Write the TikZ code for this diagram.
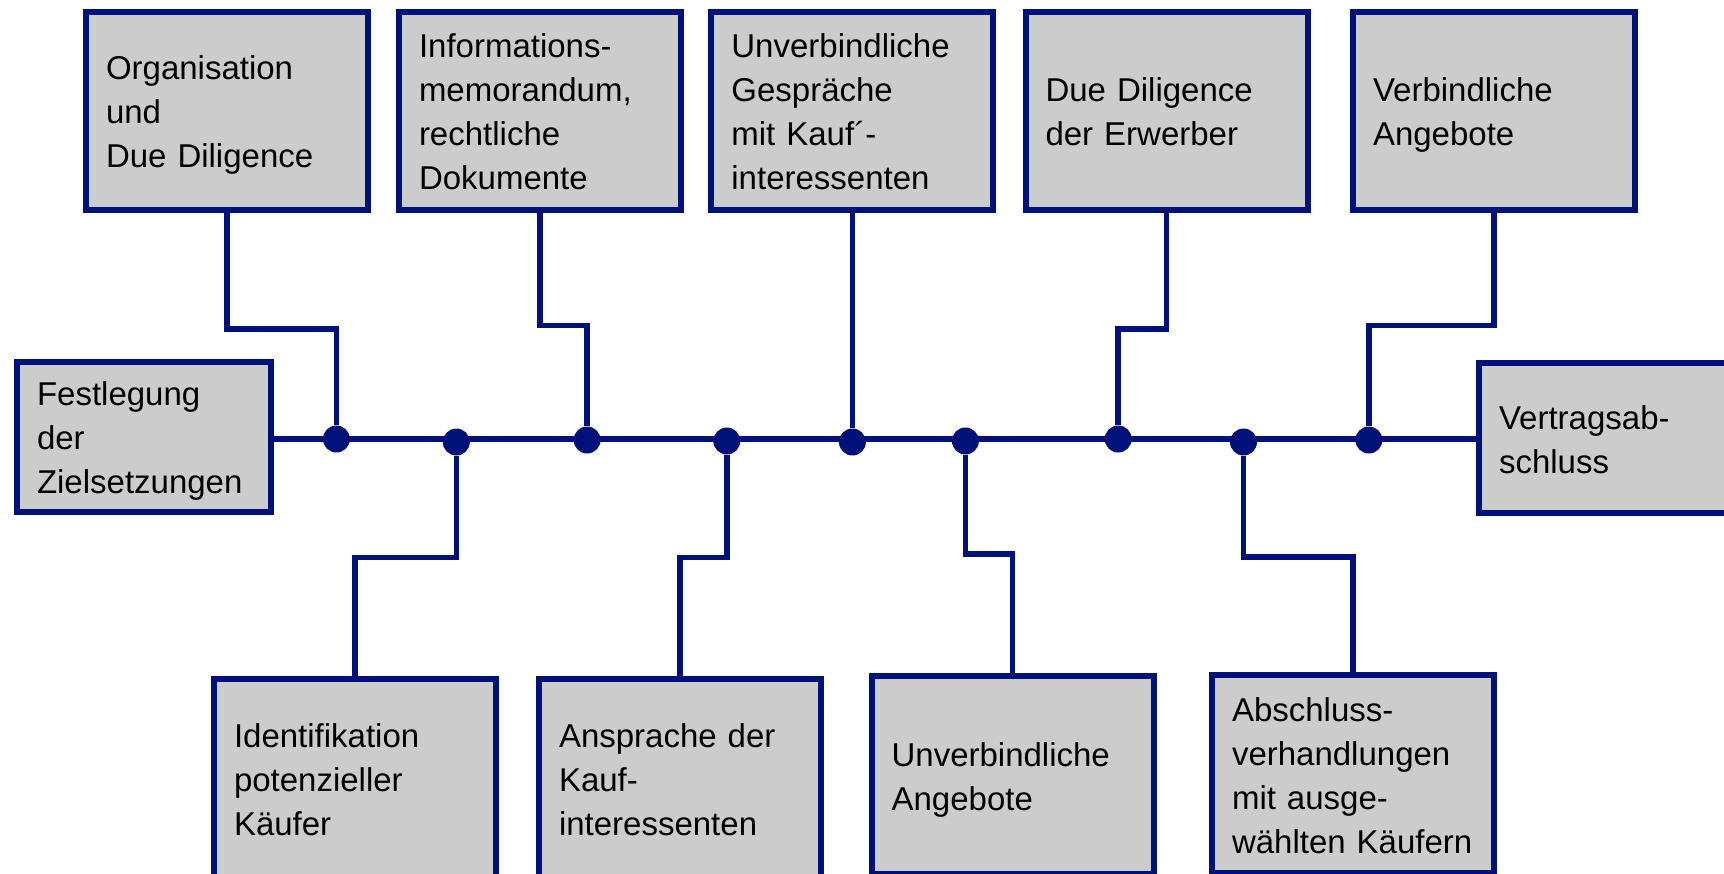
\documentclass[tikz,border=0pt]{standalone}
\usepackage{fontspec}
\setmainfont{Liberation Sans}
\definecolor{navy}{RGB}{0,18,122}
\definecolor{boxgray}{RGB}{204,204,204}
\newcommand{\mystrut}{\rule[-9pt]{0pt}{44pt}}
\tikzset{
  stage/.style={draw=navy, fill=boxgray, line width=6pt, inner xsep=20pt, inner ysep=0pt,
    text width=242pt, minimum height=198pt, align=left, font=\fontsize{33}{44}\selectfont},
  endbox/.style={stage, text width=214pt, minimum height=150pt},
  dot/.style={circle, fill=navy, inner sep=0pt, minimum size=27pt},
  conn/.style={draw=navy, line width=5.5pt},
  mainline/.style={draw=navy, line width=6pt}
}
\begin{document}
\begin{tikzpicture}[x=1pt,y=-1pt]
\useasboundingbox (0,0) rectangle (1724,874);
% end boxes
\node[endbox] (L) at (144,437) {\mystrut Festlegung\\\mystrut der\\\mystrut Zielsetzungen};
\node[endbox] (R) at (1606,438) {\mystrut Vertragsab-\\\mystrut schluss};
% top boxes
\node[stage] (A) at (227,111) {\mystrut Organisation\\\mystrut und\\\mystrut Due Diligence};
\node[stage] (B) at (540,111) {\mystrut Informations-\\\mystrut memorandum,\\\mystrut rechtliche\\\mystrut Dokumente};
\node[stage] (C) at (852.4,111) {\mystrut Unverbindliche\\\mystrut Gespräche\\\mystrut mit Kauf´-\\\mystrut interessenten};
\node[stage] (D) at (1166.5,111) {\mystrut Due Diligence\\\mystrut der Erwerber};
\node[stage] (E) at (1494,111) {\mystrut Verbindliche\\\mystrut Angebote};
% bottom boxes
\node[stage] (F) at (355,778.4) {\mystrut Identifikation\\\mystrut potenzieller\\\mystrut Käufer};
\node[stage] (G) at (680,778.4) {\mystrut Ansprache der\\\mystrut Kauf-\\\mystrut interessenten};
\node[stage] (H) at (1012.6,775) {\mystrut Unverbindliche\\\mystrut Angebote};
\node[stage] (I) at (1353,774) {\mystrut Abschluss-\\\mystrut verhandlungen\\\mystrut mit ausge-\\\mystrut wählten Käufern};
% main line
\draw[mainline] (L.east |- 0,439) -- (R.west |- 0,439);
% dots
\node[dot] (d1) at (336.4,439) {};
\node[dot] (d2) at (456.3,442) {};
\node[dot] (d3) at (587.1,440) {};
\node[dot] (d4) at (726.8,441) {};
\node[dot] (d5) at (852.4,442) {};
\node[dot] (d6) at (965.4,441) {};
\node[dot] (d7) at (1118.2,439) {};
\node[dot] (d8) at (1243.5,442) {};
\node[dot] (d9) at (1368.9,440) {};
% connectors top
\draw[conn] (A.south) -- ++(0,116) -| (d1);
\draw[conn] (B.south) -- ++(0,112.5) -| (d3);
\draw[conn] (C.south) -- (d5);
\draw[conn] (D.south) -- ++(0,116) -| (d7);
\draw[conn] (E.south) -- ++(0,112.5) -| (d9);
% connectors bottom
\draw[conn] (F.north) -- ++(0,-119) -| (d2);
\draw[conn] (G.north) -- ++(0,-119) -| (d4);
\draw[conn] (H.north) -- ++(0,-119) -| (d6);
\draw[conn] (I.north) -- ++(0,-115) -| (d8);
\end{tikzpicture}
\end{document}
